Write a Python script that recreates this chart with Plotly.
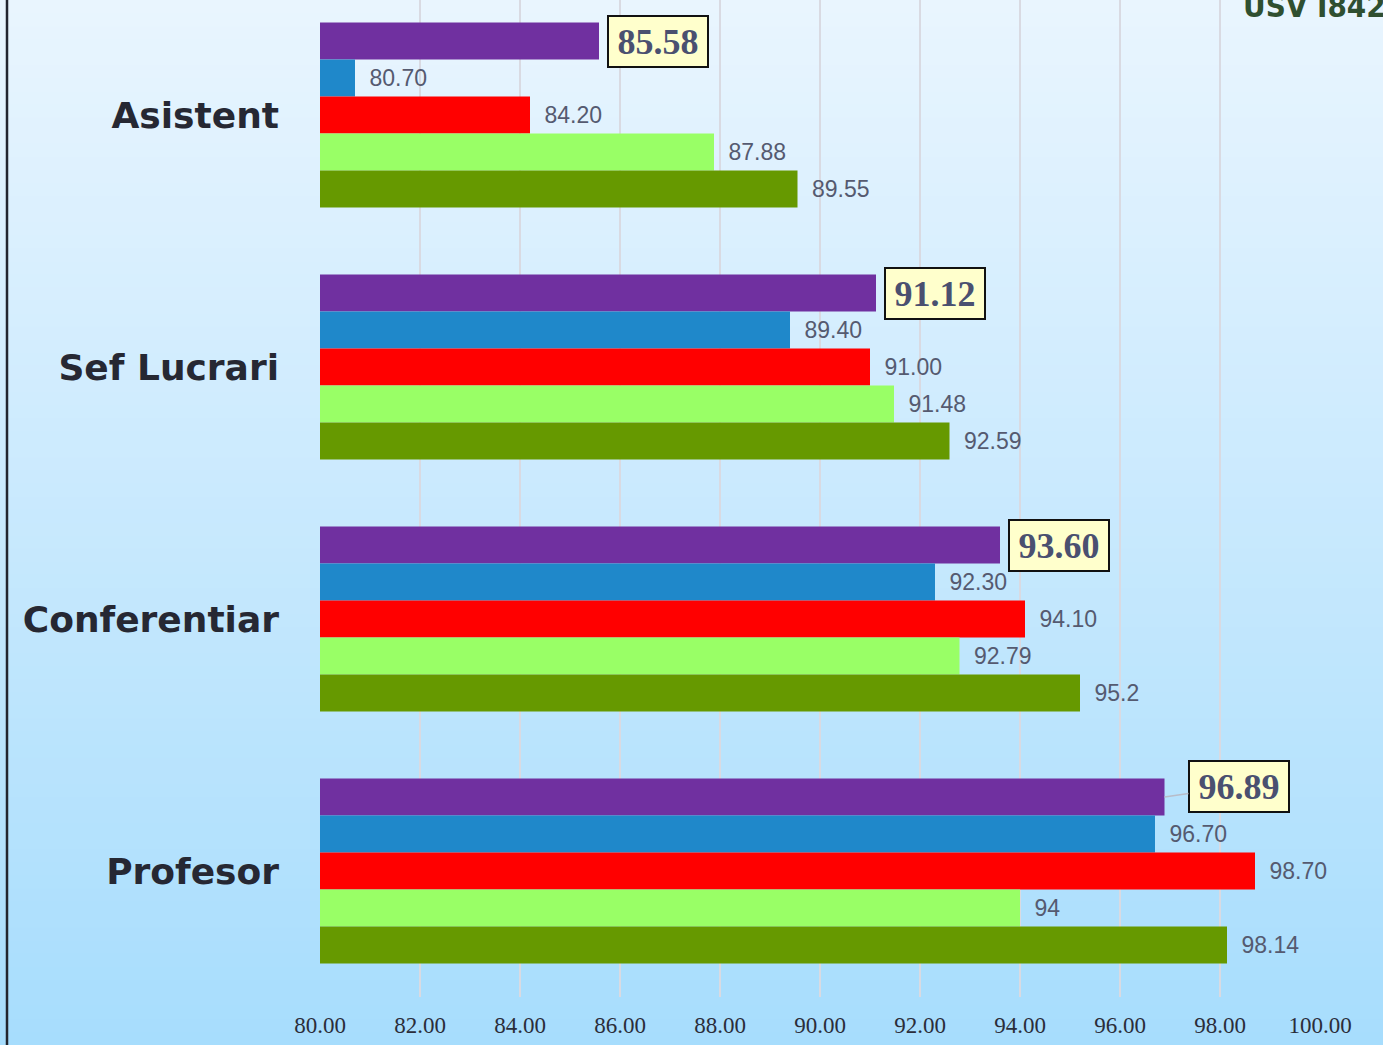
import plotly.graph_objects as go

# ---------------- data ----------------
categories = ["Asistent", "Sef Lucrari", "Conferentiar", "Profesor"]
series_names = ["Media USV", "Seria 2", "Seria 3", "Seria 4", "Seria 5"]
series_colors = ["#7030A0", "#1F88CA", "#FF0000", "#99FF66", "#669900"]

s_purple = [85.58, 91.12, 93.60, 96.89]
s_blue = [80.70, 89.40, 92.30, 96.70]
s_red = [84.20, 91.00, 94.10, 98.70]
s_lgreen = [87.88, 91.48, 92.79, 94.00]
s_dgreen = [89.55, 92.59, 95.20, 98.14]

lbl_purple = ["85.58", "91.12", "93.60", "96.89"]
lbl_blue = ["80.70", "89.40", "92.30", "96.70"]
lbl_red = ["84.20", "91.00", "94.10", "98.70"]
lbl_lgreen = ["87.88", "91.48", "92.79", "94"]
lbl_dgreen = ["89.55", "92.59", "95.2", "98.14"]

x_ticks = [80, 82, 84, 86, 88, 90, 92, 94, 96, 98, 100]
x_tick_labels = ["80.00", "82.00", "84.00", "86.00", "88.00", "90.00",
                 "92.00", "94.00", "96.00", "98.00", "100.00"]
title_text = "USV I842"

series_values = [s_purple, s_blue, s_red, s_lgreen, s_dgreen]
series_labels = [lbl_purple, lbl_blue, lbl_red, lbl_lgreen, lbl_dgreen]

BARGAP = 0.266
W_PX, H_PX = 1383, 1045
M_L, M_R, M_T, M_B = 320, 63, 0, 48
plot_h = H_PX - M_T - M_B
plot_w = W_PX - M_L - M_R
cat_px = 252.0

fig = go.Figure()
for i, (name, vals, labels, col) in enumerate(zip(series_names, series_values, series_labels, series_colors)):
    show_text = i != 0
    fig.add_trace(go.Bar(
        name=name, orientation="h", x=vals, y=categories,
        marker=dict(color=col, line=dict(width=0)),
        text=["\u2002" + t for t in labels] if show_text else None,
        textposition="outside" if show_text else "none",
        textfont=dict(family="Liberation Sans, Arial, sans-serif", size=23, color="#555A70"),
        constraintext="none", cliponaxis=False,
    ))

# callout boxes for the first series
w_cat = (1 - BARGAP) / len(series_values)
for idx, (v, t) in enumerate(zip(s_purple, lbl_purple)):
    ypos = idx - 2 * w_cat
    common = dict(
        x=v, y=ypos, xref="x", yref="y", text="<b>" + t + "</b>",
        font=dict(family="Liberation Serif, Times New Roman, serif", size=36, color="#4A5070"),
        bgcolor="#FFFFCC", bordercolor="#111111", borderwidth=2, borderpad=1,
        width=96, height=47,
    )
    if idx == len(s_purple) - 1:
        fig.add_annotation(**common, showarrow=True, ax=74, ay=-11, arrowhead=0,
                           arrowcolor="#B8BCC8", arrowwidth=1.5, standoff=0)
    else:
        fig.add_annotation(**common, showarrow=False, xanchor="left", xshift=8)

# gradient background (stripes)
n = 80
top = (233, 245, 254)
bot = (167, 221, 253)
shapes = []
for k in range(n):
    f = k / (n - 1)
    c = tuple(round(top[j] + (bot[j] - top[j]) * f) for j in range(3))
    y1 = 1 + M_T / plot_h - k * (H_PX / plot_h) / n
    y0 = y1 - (H_PX / plot_h) / n - 0.002
    shapes.append(dict(type="rect", xref="paper", yref="paper", x0=-1, x1=2, y0=y0, y1=y1,
                       fillcolor="rgb(%d,%d,%d)" % c, line=dict(width=0), layer="below"))
# left border line
shapes.append(dict(type="line", xref="paper", yref="paper",
                   x0=(7 - M_L) / plot_w, x1=(7 - M_L) / plot_w,
                   y0=-1, y1=2, line=dict(color="#22252F", width=2.5), layer="above"))

fig.add_annotation(text="<b>" + title_text + "</b>", xref="paper", yref="paper",
                   x=(1241 - M_L) / plot_w, y=1 - 6 / plot_h,
                   xanchor="left", yanchor="middle", showarrow=False,
                   font=dict(family="DejaVu Sans Condensed, DejaVu Sans, sans-serif", size=31, color="#2F4F30"))

n_cat = len(categories)
fig.update_layout(
    width=W_PX, height=H_PX,
    margin=dict(l=M_L, r=M_R, t=M_T, b=M_B, pad=0),
    paper_bgcolor="#E9F5FE", plot_bgcolor="rgba(0,0,0,0)",
    barmode="group", bargap=BARGAP, bargroupgap=0,
    showlegend=False, shapes=shapes,
    xaxis=dict(range=[80, 100], tickvals=x_ticks, ticktext=x_tick_labels,
               showgrid=True, gridcolor="#D9DAE2", gridwidth=2, zeroline=False,
               showline=False, ticks="", ticklabelstandoff=12,
               tickfont=dict(family="Liberation Serif, Times New Roman, serif", size=23, color="#2B2D3A")),
    yaxis=dict(type="category", categoryorder="array", categoryarray=categories,
               range=[n_cat - 0.5, n_cat - 0.5 - plot_h / cat_px],
               showgrid=False, zeroline=False, showline=False, ticks="",
               ticklabelstandoff=40,
               tickfont=dict(family="DejaVu Sans, sans-serif", size=36, color="#262833", weight="bold")),
)

fig.write_html("out.html", config={"displayModeBar": False},
               post_script="document.body.style.margin='0';document.body.style.overflow='hidden';")
